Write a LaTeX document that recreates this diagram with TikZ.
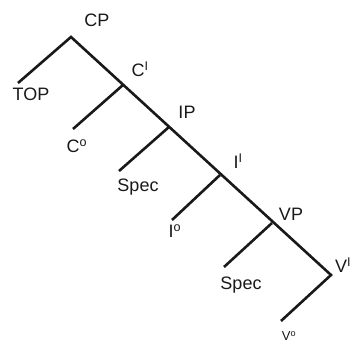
\documentclass[tikz,border=0pt]{standalone}
\usepackage{fontspec}
\setmainfont{Liberation Sans}
\begin{document}
\begin{tikzpicture}[x=1pt,y=-1pt,
  branch/.style={line width=2.6pt,draw=black!90,line cap=butt,line join=miter},
  lab/.style={font=\fontsize{18}{20}\selectfont,inner sep=0pt,text=black!90},
  sm/.style={font=\fontsize{13}{15}\selectfont,inner sep=0pt,text=black!90}]
\useasboundingbox (0,0) rectangle (356,344);
% spine junctions
\coordinate (cp) at (71,37);
\coordinate (cbar) at (123,85);
\coordinate (ip) at (169,127);
\coordinate (ibar) at (220,175);
\coordinate (vp) at (272,223);
\coordinate (vbar) at (331,275);
% branch ends
\coordinate (top) at (18,83);
\coordinate (c0) at (73,129);
\coordinate (spec1) at (119,171);
\coordinate (i0) at (172,220);
\coordinate (spec2) at (224,267);
\coordinate (v0) at (281,321);
% spine and branches
\draw[branch] (top) -- (cp) -- (vbar) -- (v0);
\draw[branch] (cbar) -- (c0);
\draw[branch] (ip) -- (spec1);
\draw[branch] (ibar) -- (i0);
\draw[branch] (vp) -- (spec2);
% labels
\node[lab] (lcp) at (97,20) {CP};
\node[lab] (lcbar) at (140,69) {C\textsuperscript{I}};
\node[lab] (ltop) at (31,94) {TOP};
\node[lab] (lc0) at (77,146) {C\textsuperscript{o}};
\node[lab] (lip) at (187,112) {IP};
\node[lab] (lspec1) at (138,187) {Spec};
\node[lab] (libar) at (238,161) {I\textsuperscript{I}};
\node[lab] (li0) at (175,231) {I\textsuperscript{o}};
\node[lab] (lvp) at (291,214) {VP};
\node[lab] (lspec2) at (241,285) {Spec};
\node[lab] (lvbar) at (343,265) {V\textsuperscript{I}};
\node[sm] (lv0) at (289,336) {V\textsuperscript{o}};
\end{tikzpicture}
\end{document}
